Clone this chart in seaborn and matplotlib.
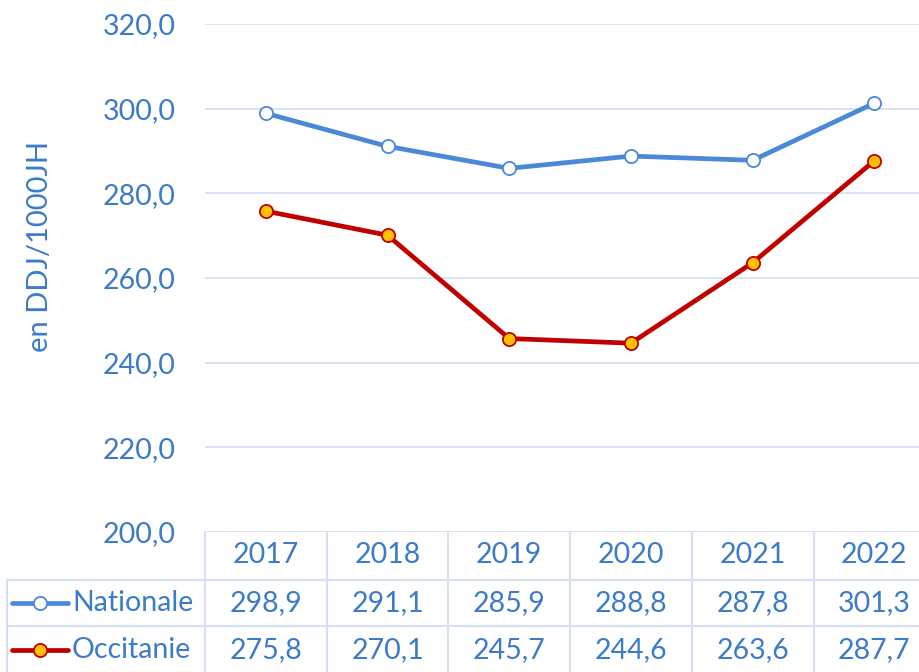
import matplotlib.pyplot as plt
import pandas as pd
import seaborn as sns

years = ["2017", "2018", "2019", "2020", "2021", "2022"]
nationale = [298.9, 291.1, 285.9, 288.8, 287.8, 301.3]
occitanie = [275.8, 270.1, 245.7, 244.6, 263.6, 287.7]
series = ["Nationale", "Occitanie"]
values = {"Nationale": nationale, "Occitanie": occitanie}

df = pd.DataFrame({
    "annee": years * 2,
    "valeur": nationale + occitanie,
    "serie": ["Nationale"] * len(years) + ["Occitanie"] * len(years),
})

sns.set_theme(style="white")
plt.rcParams["font.family"] = ["Lato", "DejaVu Sans"]

TXT = "#3B7BC8"
GRID = "#D5E0F2"
line_col = {"Nationale": "#4A89D8", "Occitanie": "#C00000"}
face_col = {"Nationale": "white", "Occitanie": "#FFC000"}
FS = 20.5

W, H = 920, 672
px = 121.7  # width of one category column, the plot runs past the right edge
fig = plt.figure(figsize=(W / 100, H / 100), dpi=100)
ax = fig.add_axes([205 / W, (H - 532) / H, 6 * px / W, (532 - 24) / H])

for s in series:
    sns.lineplot(data=df[df["serie"] == s], x="annee", y="valeur", ax=ax,
                 color=line_col[s], lw=3.4, marker="o", markersize=9.5,
                 markerfacecolor=face_col[s], markeredgecolor=line_col[s],
                 markeredgewidth=1.3, sort=False, zorder=3)

ax.set_ylim(200, 320)
ax.set_yticks(range(200, 321, 20))
ax.set_yticklabels([f"{v:.1f}".replace(".", ",") for v in range(200, 321, 20)])
ax.set_xticks([])
ax.set_xlabel("")
ax.set_ylabel("")
ax.tick_params(axis="y", length=0, pad=21, labelsize=FS, labelcolor=TXT)
ax.yaxis.grid(True, color=GRID, lw=1.3)
for sp in ax.spines.values():
    sp.set_visible(False)

fig.text(40 / W, 1 - 247 / H, "en DDJ/1000JH", rotation=90, ha="center",
         va="center", fontsize=FS + 0.5, color=TXT)

# data table under the plot
tr = ax.get_xaxis_transform()
def fy(p):
    return (532 - p) / 508

x_left = -0.5 + (7 - 205) / px
for yy in [fy(580), fy(626)]:
    ax.plot([x_left, 5.5], [yy, yy], color=GRID, lw=1.5, transform=tr, clip_on=False)
ax.plot([x_left, x_left], [fy(580), fy(672)], color=GRID, lw=1.5, transform=tr, clip_on=False)
for i in range(len(years) + 1):
    ax.plot([i - 0.5, i - 0.5], [0, fy(672)], color=GRID, lw=1.5, transform=tr, clip_on=False)

for i, y in enumerate(years):
    ax.text(i, fy(555), y, ha="center", va="center", fontsize=FS, color=TXT, transform=tr)

for s, yp in zip(series, [603, 650]):
    for i, v in enumerate(values[s]):
        ax.text(i, fy(yp), f"{v:.1f}".replace(".", ","), ha="center", va="center",
                fontsize=FS, color=TXT, transform=tr)
    k0 = -0.5 + (12 - 205) / px
    k1 = -0.5 + (68 - 205) / px
    km = -0.5 + (40 - 205) / px
    ax.plot([k0, k1], [fy(yp), fy(yp)], color=line_col[s], lw=3.4, transform=tr,
            clip_on=False, solid_capstyle="round")
    ax.plot([km], [fy(yp)], marker="o", markersize=9.5, markerfacecolor=face_col[s],
            markeredgecolor=line_col[s], markeredgewidth=1.3, transform=tr, clip_on=False)
    ax.text(-0.5 + (72 - 205) / px, fy(yp), s, ha="left", va="center", fontsize=FS,
            color=TXT, transform=tr)

ax.set_xlim(-0.5, 5.5)
ax.set_ylim(200, 320)

fig.savefig("out.png", dpi=100)
